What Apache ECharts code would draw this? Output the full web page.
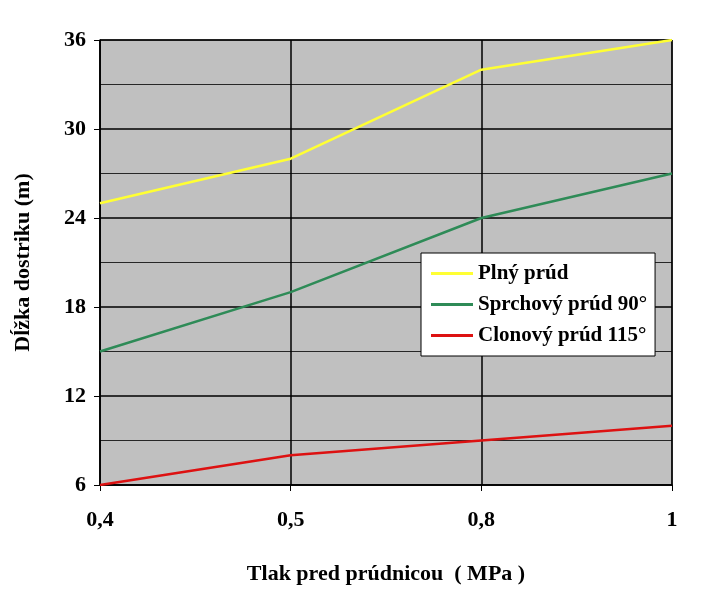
<!DOCTYPE html>
<html><head><meta charset="utf-8">
<script src="https://cdn.jsdelivr.net/npm/echarts@6/dist/echarts.min.js"></script>
<style>body{margin:0;background:#fff}#main{width:711px;height:600px}</style>
</head><body><div id="main"></div>
<script>
var categories = ['0,4', '0,5', '0,8', '1'];
var plny = [25, 28, 34, 36];
var sprchovy = [15, 19, 24, 27];
var clonovy = [6, 8, 9, 10];

var font = 'Liberation Serif';
var myChart = echarts.init(document.getElementById('main'));
var option = {
  animation: false,
  grid: { left: 100, right: 39, top: 40, bottom: 115, backgroundColor: '#c0c0c0', show: true, borderColor: '#000', borderWidth: 1 },
  xAxis: {
    type: 'category', data: categories, boundaryGap: false,
    name: 'Tlak pred prúdnicou  ( MPa )', nameLocation: 'middle', nameGap: 78,
    nameTextStyle: { fontFamily: font, fontWeight: 'bold', fontSize: 22, color: '#000' },
    axisLine: { lineStyle: { color: '#000', width: 1.5 } },
    axisTick: { show: true, alignWithLabel: true, length: 6, lineStyle: { color: '#000' } },
    axisLabel: { fontFamily: font, fontWeight: 'bold', fontSize: 22, color: '#000', margin: 24 },
    splitLine: { show: true, lineStyle: { color: '#000', width: 1.5 } }
  },
  yAxis: {
    type: 'value', min: 6, max: 36, interval: 6,
    name: 'Dĺžka dostriku (m)', nameLocation: 'middle', nameGap: 66,
    nameTextStyle: { fontFamily: font, fontWeight: 'bold', fontSize: 22, color: '#000' },
    axisLine: { show: true, lineStyle: { color: '#000', width: 1.5 } },
    axisTick: { show: true, length: 6, lineStyle: { color: '#000' } },
    axisLabel: { fontFamily: font, fontWeight: 'bold', fontSize: 22, color: '#000', margin: 14 },
    splitLine: { show: true, lineStyle: { color: '#000', width: 1.5 } },
    minorTick: { show: false, splitNumber: 2 },
    minorSplitLine: { show: true, lineStyle: { color: '#000', width: 0.8 } }
  },
  legend: {
    orient: 'vertical', left: 421, top: 253, itemWidth: 42, itemHeight: 3, itemGap: 10,
    padding: [10, 8, 10, 10],
    backgroundColor: '#fff', borderColor: '#000', borderWidth: 1,
    icon: 'rect',
    textStyle: { fontFamily: font, fontWeight: 'bold', fontSize: 21, color: '#000' }
  },
  series: [
    { name: 'Plný prúd', type: 'line', data: plny, symbol: 'none', lineStyle: { color: '#ffff33', width: 2.5 }, itemStyle: { color: '#ffff33' } },
    { name: 'Sprchový prúd 90°', type: 'line', data: sprchovy, symbol: 'none', lineStyle: { color: '#2e8b57', width: 2.5 }, itemStyle: { color: '#2e8b57' } },
    { name: 'Clonový prúd 115°', type: 'line', data: clonovy, symbol: 'none', lineStyle: { color: '#dd1111', width: 2.5 }, itemStyle: { color: '#dd1111' } }
  ]
};
myChart.setOption(option);
</script></body></html>
